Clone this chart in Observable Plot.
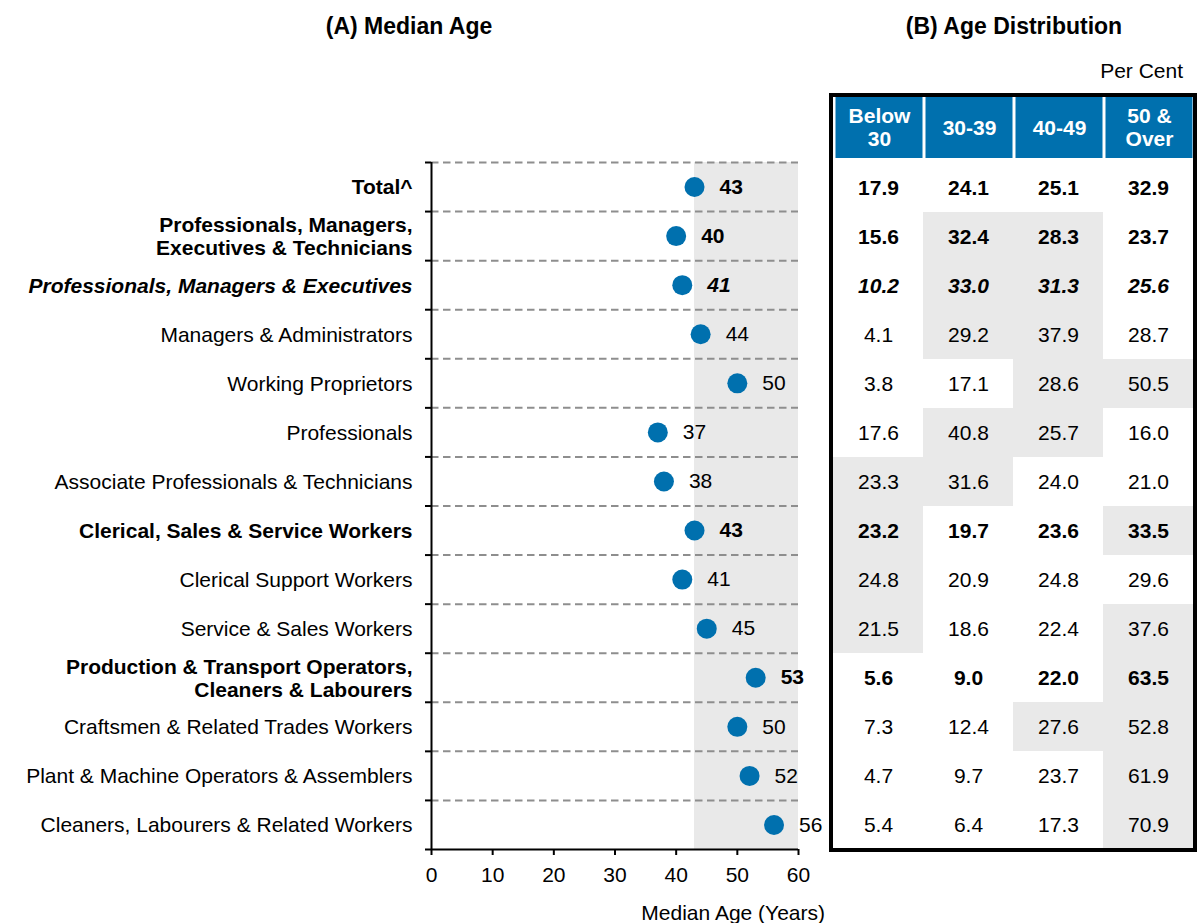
<!DOCTYPE html>
<html>
<head>
<meta charset="utf-8">
<script src="https://cdn.jsdelivr.net/npm/d3@7"></script>
<script src="https://cdn.jsdelivr.net/npm/@observablehq/plot@0.6"></script>
<style>
  body { margin: 0; background: #fff; font-family: Arial, "Liberation Sans", sans-serif; }
  #wrap { position: relative; width: 1197px; height: 923px; overflow: hidden; background: #fff; }
  .abs { position: absolute; white-space: nowrap; color: #000; }
  .title { font-weight: bold; font-size: 23px; line-height: 23px; transform: translateX(-50%); }
  .note { font-size: 21px; line-height: 21px; }
  #wrap svg { display: block; }
</style>
</head>
<body>
<div id="wrap">
  <div class="abs title" style="left:409px; top:15px;">(A) Median Age</div>
  <div class="abs title" style="left:1014px; top:15px;">(B) Age Distribution</div>
  <div class="abs note" style="right:14px; top:60px;">Per Cent</div>
  <div class="abs note" style="right:372px; top:902px;">Median Age (Years)</div>
</div>
<script>
// ---- Data ----
const categories = [
  "Total^",
  "Professionals, Managers,\nExecutives & Technicians",
  "Professionals, Managers & Executives",
  "Managers & Administrators",
  "Working Proprietors",
  "Professionals",
  "Associate Professionals & Technicians",
  "Clerical, Sales & Service Workers",
  "Clerical Support Workers",
  "Service & Sales Workers",
  "Production & Transport Operators,\nCleaners & Labourers",
  "Craftsmen & Related Trades Workers",
  "Plant & Machine Operators & Assemblers",
  "Cleaners, Labourers & Related Workers"
];
const medianAge = [43, 40, 41, 44, 50, 37, 38, 43, 41, 45, 53, 50, 52, 56];
const rowStyle = ["bold", "bold", "bolditalic", "normal", "normal", "normal", "normal",
                  "bold", "normal", "normal", "bold", "normal", "normal", "normal"];

const colLabels = ["Below\n30", "30-39", "40-49", "50 &\nOver"];
const below30  = [17.9, 15.6, 10.2, 4.1, 3.8, 17.6, 23.3, 23.2, 24.8, 21.5, 5.6, 7.3, 4.7, 5.4];
const age30_39 = [24.1, 32.4, 33.0, 29.2, 17.1, 40.8, 31.6, 19.7, 20.9, 18.6, 9.0, 12.4, 9.7, 6.4];
const age40_49 = [25.1, 28.3, 31.3, 37.9, 28.6, 25.7, 24.0, 23.6, 24.8, 22.4, 22.0, 27.6, 23.7, 17.3];
const age50up  = [32.9, 23.7, 25.6, 28.7, 50.5, 16.0, 21.0, 33.5, 29.6, 37.6, 63.5, 52.8, 61.9, 70.9];
const xTicks = [0, 10, 20, 30, 40, 50, 60];

// ---- Styling ----
const FONT = 'Arial, "Liberation Sans", sans-serif';
const BLUE = "#0070ae";
const GREY = "#e9e9e9";
const styleOpts = {
  normal: {fontWeight: "normal"},
  bold: {fontWeight: "bold"},
  bolditalic: {fontWeight: "bold", fontStyle: "italic"}
};
const styles = ["normal", "bold", "bolditalic"];

const rows = categories.map((c, i) => ({cat: c, idx: i, age: medianAge[i], style: rowStyle[i]}));
const boundaries = d3.range(categories.length + 1).map(i => i - 0.5);
const totalMedian = medianAge[0];

// ---- Panel A: dot plot ----
const plotA = Plot.plot({
  width: 830, height: 923,
  marginLeft: 431, marginRight: 32, marginTop: 162, marginBottom: 74,
  style: {fontFamily: FONT, fontSize: "21px", background: "transparent", color: "#000", overflow: "visible"},
  x: {domain: [xTicks[0], xTicks[xTicks.length - 1]], label: null},
  y: {domain: [boundaries[0], boundaries[boundaries.length - 1]], reverse: true, label: null},
  marks: [
    Plot.rect([totalMedian], {
      x1: d => d, x2: xTicks[xTicks.length - 1],
      y1: boundaries[0], y2: boundaries[boundaries.length - 1],
      fill: GREY
    }),
    Plot.ruleY(boundaries.slice(0, -1), {stroke: "#8e8e8e", strokeWidth: 2, strokeDasharray: "7.5,4.5"}),
    Plot.axisX({ticks: xTicks, tickSize: 6, tickPadding: 12, fontSize: 21, label: null, strokeWidth: 2}),
    Plot.axisY({ticks: boundaries, tickSize: 6, tickFormat: () => "", label: null, strokeWidth: 2}),
    Plot.ruleX([xTicks[0]], {stroke: "#000", strokeWidth: 2}),
    Plot.ruleY([boundaries[boundaries.length - 1]], {stroke: "#000", strokeWidth: 2}),
    Plot.dot(rows, {x: "age", y: "idx", r: 10, fill: BLUE, stroke: null}),
    ...styles.flatMap(s => [
      Plot.text(rows.filter(d => d.style === s), {
        x: xTicks[0], y: "idx", text: "cat", textAnchor: "end", dx: -19,
        fontSize: 21, lineHeight: 1.1, fill: "#000", ...styleOpts[s]
      }),
      Plot.text(rows.filter(d => d.style === s), {
        x: "age", y: "idx", text: d => String(d.age), textAnchor: "start", dx: 25,
        fontSize: 21, fill: "#000", ...styleOpts[s]
      })
    ])
  ]
});
plotA.style.position = "absolute";
plotA.style.left = "0px";
plotA.style.top = "0px";

// ---- Panel B: header ----
const header = Plot.plot({
  width: 363, height: 62, margin: 0,
  style: {fontFamily: FONT, fontSize: "21px", background: "transparent", overflow: "visible"},
  x: {domain: colLabels, padding: 0, axis: null},
  marks: [
    Plot.cell(colLabels, {x: d => d, fill: BLUE, insetLeft: 1.5, insetRight: 1.5}),
    Plot.text(colLabels, {x: d => d, text: d => d, fill: "#fff", fontWeight: "bold", fontSize: 21, lineHeight: 1.1})
  ]
});
header.style.position = "absolute";
header.style.left = "831.5px";
header.style.top = "96px";

// ---- Panel B: body ----
const columns = [below30, age30_39, age40_49, age50up];
const cells = categories.flatMap((c, i) => columns.map((vals, j) => ({
  cat: c, col: colLabels[j], v: vals[i], style: rowStyle[i], shaded: vals[i] > vals[0]
})));
const body = Plot.plot({
  width: 360, height: 687, margin: 0,
  style: {fontFamily: FONT, fontSize: "21px", background: "transparent", overflow: "visible"},
  x: {domain: colLabels, padding: 0, axis: null},
  y: {domain: categories, padding: 0, axis: null},
  marks: [
    Plot.cell(cells.filter(d => d.shaded), {x: "col", y: "cat", fill: GREY}),
    ...styles.map(s => Plot.text(cells.filter(d => d.style === s), {
      x: "col", y: "cat", text: d => d.v.toFixed(1), fontSize: 21, fill: "#000", ...styleOpts[s]
    }))
  ]
});
body.style.position = "absolute";
body.style.left = "833px";
body.style.top = "162px";

const wrap = document.getElementById("wrap");
wrap.appendChild(plotA);
wrap.appendChild(body);
wrap.appendChild(header);

const border = document.createElement("div");
border.style.cssText = "position:absolute;left:829px;top:93px;width:368px;height:759px;box-sizing:border-box;border:4px solid #000;pointer-events:none;";
wrap.appendChild(border);
</script>
</body>
</html>
